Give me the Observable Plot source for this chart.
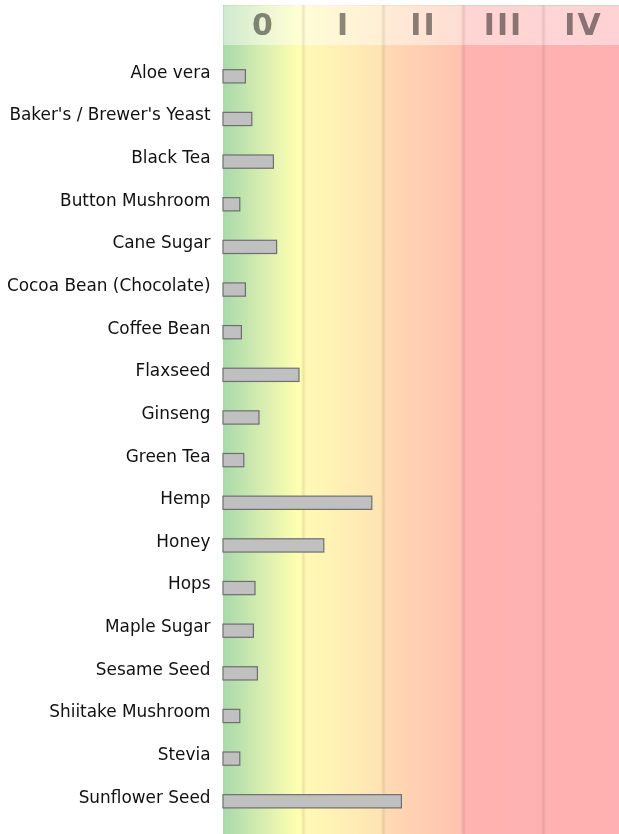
<!DOCTYPE html>
<html><head><meta charset="utf-8">
<script src="https://cdn.jsdelivr.net/npm/d3@7"></script>
<script src="https://cdn.jsdelivr.net/npm/@observablehq/plot@0.6"></script>
<style>
body{margin:0;background:#fff;overflow:hidden;}
#chart svg{display:block;}
.hdr text{letter-spacing:2px;}
</style>
</head><body><div id="chart"></div>
<script>
const foods = ["Aloe vera","Baker's / Brewer's Yeast","Black Tea","Button Mushroom","Cane Sugar","Cocoa Bean (Chocolate)","Coffee Bean","Flaxseed","Ginseng","Green Tea","Hemp","Honey","Hops","Maple Sugar","Sesame Seed","Shiitake Mushroom","Stevia","Sunflower Seed"];
const values = [0.28,0.36,0.63,0.21,0.67,0.28,0.23,0.95,0.45,0.26,1.86,1.26,0.40,0.38,0.43,0.21,0.21,2.23];
const classLabels = ["0","I","II","III","IV"];

const data = foods.map((name,i)=>({name, value: values[i]}));
const classes = classLabels.map((label,i)=>({label, mid: i + 0.5}));
const gridlines = classLabels.slice(1).map((_,i)=>i+1);
const xDomain = [0, 4.95];
const bg = [{a: xDomain[0], b: xDomain[1]}];
const W = 619, ML = 223;

function gradientDefs(id){
  return () => {
    const ns = "http://www.w3.org/2000/svg";
    const defs = document.createElementNS(ns, "defs");
    const lg = document.createElementNS(ns, "linearGradient");
    lg.setAttribute("id", id);
    lg.setAttribute("x1","0"); lg.setAttribute("x2","1");
    lg.setAttribute("y1","0"); lg.setAttribute("y2","0");
    const stops = [[0,"#a8d9ab"],[0.095,"#d6ecb0"],[0.19,"#ffffb0"],[0.205,"#fffab5"],[0.4,"#ffe3b3"],[0.41,"#ffdab3"],[0.6,"#ffc2b0"],[0.61,"#ffb3b0"],[1,"#ffb0b2"]];
    for (const [o,c] of stops){
      const s = document.createElementNS(ns,"stop");
      s.setAttribute("offset", o); s.setAttribute("stop-color", c);
      lg.appendChild(s);
    }
    defs.appendChild(lg);
    return defs;
  };
}

const header = Plot.plot({
  className: "hdr",
  width: W, height: 45, marginTop: 5, marginBottom: 0, marginLeft: ML, marginRight: 0,
  x: {domain: xDomain, axis: null},
  y: {axis: null},
  marks: [
    gradientDefs("gh"),
    Plot.rect(bg, {x1: "a", x2: "b", fill: "url(#gh)"}),
    Plot.frame({fill: "white", fillOpacity: 0.45, stroke: "none"}),
    Plot.ruleX(gridlines, {stroke: "#000", strokeOpacity: 0.045, strokeWidth: 4}),
    Plot.ruleX(gridlines, {stroke: "#000", strokeOpacity: 0.035, strokeWidth: 1.5}),
    Plot.text(classes, {x: "mid", text: "label", fontSize: 30, fontWeight: "bold", fontFamily: "DejaVu Sans", fill: "#8a8a8a", mixBlendMode: "multiply"})
  ]
});

const main = Plot.plot({
  width: W, height: 789, marginTop: 0, marginBottom: 0, marginLeft: ML, marginRight: 0,
  style: {fontFamily: "DejaVu Sans", fontSize: "16.9px", background: "transparent"},
  x: {domain: xDomain, axis: null},
  y: {domain: foods, range: [10, 777.6], padding: 0, round: false, axis: null},
  marks: [
    gradientDefs("gm"),
    Plot.rect(bg, {x1: "a", x2: "b", fill: "url(#gm)"}),
    Plot.ruleX(gridlines, {stroke: "#000", strokeOpacity: 0.045, strokeWidth: 4}),
    Plot.ruleX(gridlines, {stroke: "#000", strokeOpacity: 0.035, strokeWidth: 1.5}),
    Plot.barX(data, {x: "value", y: "name", fill: "#c0c0c0", stroke: "#6e6e6e", strokeWidth: 1.2, insetTop: 14.7, insetBottom: 14.7}),
    Plot.axisY({label: null, tickSize: 0, tickPadding: 13, dy: -4.5, fontSize: 16.9, fill: "#111"})
  ]
});

const el = document.getElementById("chart");
el.appendChild(header);
el.appendChild(main);
</script>
</body></html>
